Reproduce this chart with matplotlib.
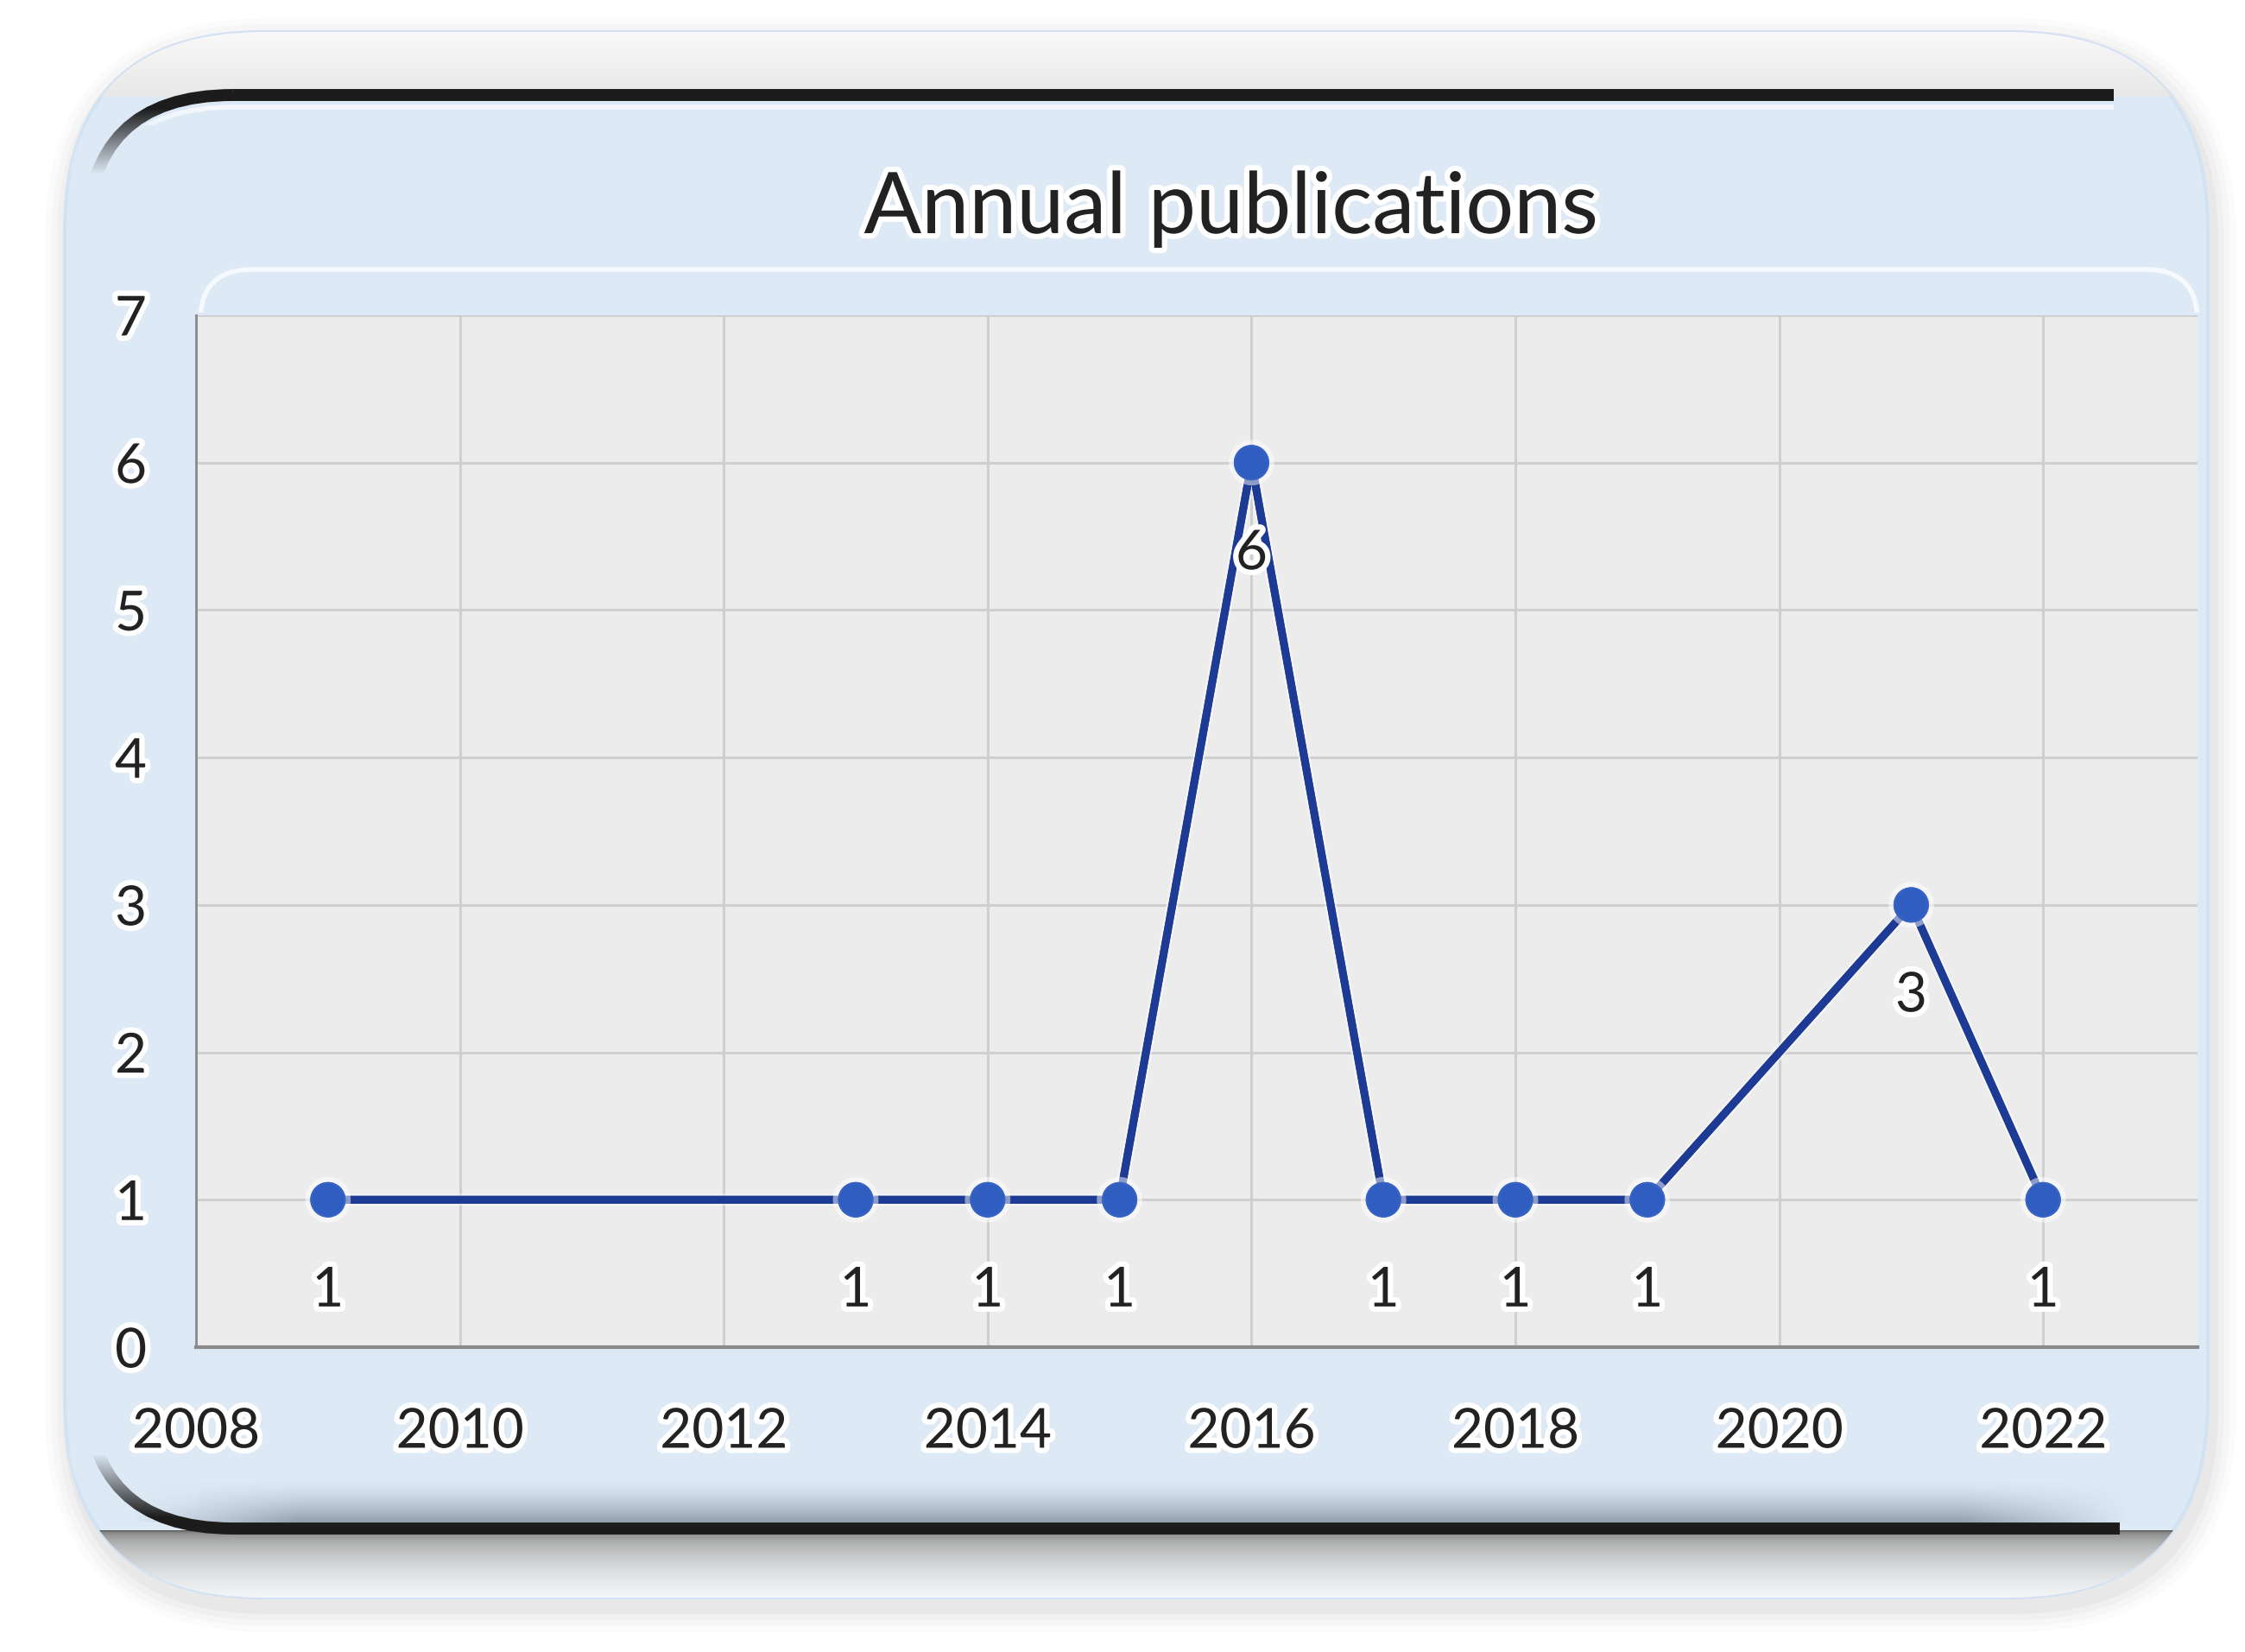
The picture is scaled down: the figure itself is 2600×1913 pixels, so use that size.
import matplotlib
matplotlib.use("Agg")
import matplotlib.pyplot as plt
import matplotlib.patheffects as pe
from matplotlib.patches import FancyBboxPatch, Rectangle
import numpy as np

plt.rcParams['font.family'] = ['Lato', 'DejaVu Sans']

# data
years = [2009, 2013, 2014, 2015, 2016, 2017, 2018, 2019, 2021, 2022]
pubs = [1, 1, 1, 1, 6, 1, 1, 1, 3, 1]
title = "Annual publications"
x_ticks = [2008, 2010, 2012, 2014, 2016, 2018, 2020, 2022]
y_ticks = [0, 1, 2, 3, 4, 5, 6, 7]

W, H = 2600, 1913
BLUE = (0xdd / 255, 0xe9 / 255, 0xf5 / 255)
fig = plt.figure(figsize=(W / 100, H / 100), dpi=100)
fig.patch.set_facecolor("white")

# background layer in pixel coordinates (y goes down)
bg = fig.add_axes([0, 0, 1, 1], zorder=0)
bg.set_xlim(0, W)
bg.set_ylim(H, 0)
bg.axis("off")


def rbox(x0, y0, x1, y1, r, **kw):
	p = FancyBboxPatch((x0 + r, y0 + r), (x1 - x0) - 2 * r, (y1 - y0) - 2 * r,
		boxstyle="round,pad=%d" % r, **kw)
	bg.add_patch(p)
	return p


def vgrad(x0, x1, ytop, ybot, c_top, c_bot, z=1, clip=None, power=1.0):
	n = 64
	t = np.linspace(0, 1, n).reshape(-1, 1) ** power
	img = np.zeros((n, 1, 4))
	for k in range(4):
		img[:, :, k] = c_top[k] + (c_bot[k] - c_top[k]) * t
	im = bg.imshow(img, extent=(x0, x1, ybot, ytop), aspect="auto", zorder=z,
		interpolation="bilinear")
	if clip is not None:
		im.set_clip_path(clip)
	return im


# soft shadow around the frame
for i, a in enumerate([0.015, 0.02, 0.025, 0.03]):
	d = 28 - i * 7
	rbox(75 - d + 5, 37 - d + 12, 2557 + d + 5, 1850 + d + 12, 230 + d,
		facecolor="#000000", edgecolor="none", alpha=a)

# outer frame, blue
outer = rbox(75, 37, 2557, 1850, 230, facecolor="#dde9f5", edgecolor="#d3e2f3", linewidth=3,
	zorder=1)

# light gray cap above the top dark line
vgrad(0, W, 37, 112, (0.975, 0.975, 0.975, 1), (0.91, 0.91, 0.91, 1), z=1.5, clip=outer)
# below the bottom dark line: short shadow, then near white
vgrad(0, W, 1772, 1850, (0.35, 0.35, 0.35, 1), (0.96, 0.965, 0.97, 1), z=1.5, clip=outer,
	power=0.35)

# dark bevel lines, top and bottom only
top_clip = Rectangle((0, 0), 2448, 200, transform=bg.transData)
d1 = rbox(100, 110, 2800, 1770, 170, facecolor="none", edgecolor="#1c1c1c", linewidth=10,
	zorder=2)
d1.set_clip_path(top_clip)
bot_clip = Rectangle((0, 1685), 2455, 200, transform=bg.transData)
d2 = rbox(100, 110, 2800, 1770, 170, facecolor="none", edgecolor="#1c1c1c", linewidth=10,
	zorder=2)
d2.set_clip_path(bot_clip)

# let the left ends of the dark arcs fade into the blue
vgrad(0, 230, 125, 202, BLUE + (0.0,), BLUE + (1.0,), z=2.1, clip=outer)
vgrad(0, 230, 1683, 1758, BLUE + (1.0,), BLUE + (0.0,), z=2.1, clip=outer)

# gray shading above the bottom dark line, faded at both ends
ny, nx = 60, 400
vy = np.linspace(0, 1, ny).reshape(-1, 1) ** 1.5
vx = np.clip(np.minimum(np.linspace(0, 1, nx), np.linspace(1, 0, nx)) * 12, 0, 1).reshape(1, -1)
img = np.zeros((ny, nx, 4))
img[..., 0] = 0.45
img[..., 1] = 0.50
img[..., 2] = 0.56
img[..., 3] = 0.7 * vy * vx
bg.imshow(img, extent=(150, 2470, 1763, 1712), aspect="auto", zorder=1.8,
	interpolation="bilinear")

# light highlight under the top dark line
hl = Rectangle((0, 0), 2448, 145, transform=bg.transData)
h = rbox(100, 124, 2800, 1770, 170, facecolor="none", edgecolor="#f4f8fc", linewidth=4,
	zorder=1.9)
h.set_clip_path(hl)

# light frame line above the plot area (top part only)
top_clip2 = Rectangle((0, 0), W, 362, transform=bg.transData)
fr = rbox(232, 312, 2545, 1600, 60, facecolor="none", edgecolor="#f6f9fd", linewidth=4,
	zorder=2)
fr.set_clip_path(top_clip2)

# plot area
ax = fig.add_axes([227 / W, 1 - 1560 / H, (2545 - 227) / W, (1560 - 365) / H], zorder=3)
ax.set_facecolor("#ececec")
ax.set_xlim(2008, 2023.17)
ax.set_ylim(0, 7)
ax.set_xticks(x_ticks)
ax.set_yticks(y_ticks)
ax.grid(True, color="#cfcfcf", linewidth=2.2)
ax.set_axisbelow(True)
for s in ["top", "right"]:
	ax.spines[s].set_visible(False)
ax.spines["left"].set_color("#8a8a8a")
ax.spines["left"].set_linewidth(2)
ax.spines["bottom"].set_color("#8a8a8a")
ax.spines["bottom"].set_linewidth(3)
ax.tick_params(length=0, labelsize=46, labelcolor="#222222")
ax.tick_params(axis="x", pad=50)
ax.tick_params(axis="y", pad=41)
glow = [pe.withStroke(linewidth=9, foreground="white")]
for lab in ax.get_xticklabels() + ax.get_yticklabels():
	lab.set_path_effects(glow)

ax.plot(years, pubs, color="#1d3a94", linewidth=6.5, marker="o", markersize=28,
	markerfacecolor="#2f5dc0", markeredgecolor="#3763c4", markeredgewidth=1.5,
	path_effects=[pe.withStroke(linewidth=10, foreground="white", alpha=0.5), pe.Normal()],
	zorder=4, clip_on=False)

for x, y in zip(years, pubs):
	ax.annotate(str(y), (x, y), xytext=(0, -76), textcoords="offset points",
		ha="center", va="center", fontsize=46, color="#222222",
		path_effects=glow, zorder=5)

fig.text(1426 / W, 1 - 242 / H, title, ha="center", va="center",
	fontsize=71, color="#222222", path_effects=glow, zorder=6)

fig.savefig("out.png", dpi=100, facecolor="white")
